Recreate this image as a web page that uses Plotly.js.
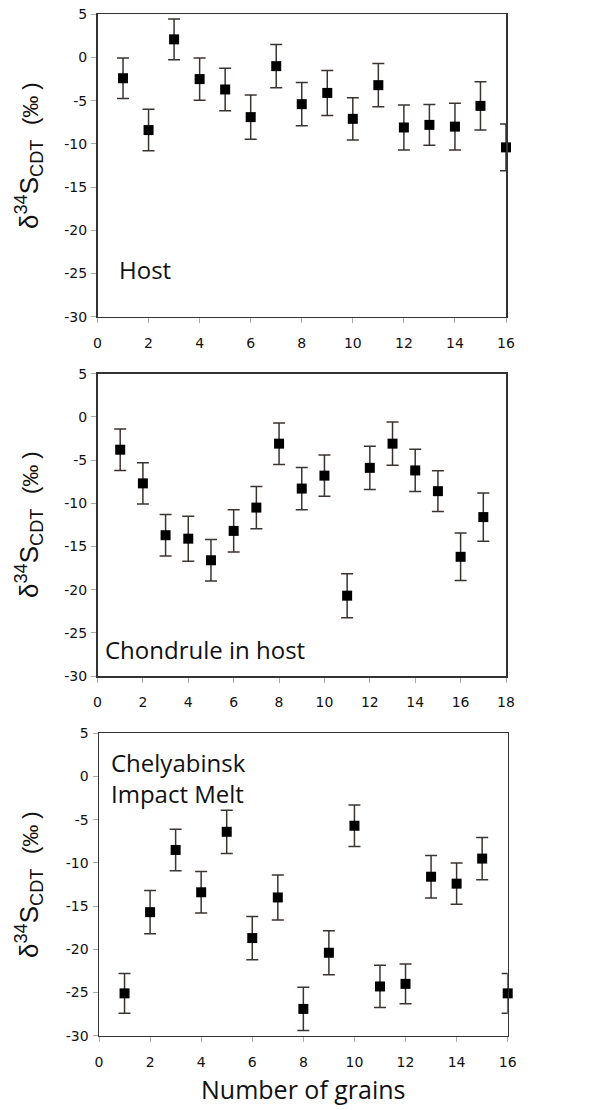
<!DOCTYPE html>
<html>
<head>
<meta charset="utf-8">
<script src="https://cdn.plot.ly/plotly-3.0.1.min.js"></script>
<style>html,body{margin:0;padding:0;background:#fff;}#chart{width:600px;height:1110px;}</style>
</head>
<body>
<div id="chart"></div>
<script>
// ---- data ----
const hostGrains = [1,2,3,4,5,6,7,8,9,10,11,12,13,14,15,16];
const hostValues = [-2.4,-8.4,2.1,-2.5,-3.7,-6.9,-1.0,-5.4,-4.1,-7.1,-3.2,-8.1,-7.8,-8.0,-5.6,-10.4];
const hostErrors = [2.35,2.4,2.35,2.45,2.45,2.55,2.5,2.5,2.6,2.45,2.5,2.6,2.35,2.7,2.8,2.7];

const chondGrains = [1,2,3,4,5,6,7,8,9,10,11,12,13,14,15,16,17];
const chondValues = [-3.8,-7.7,-13.7,-14.1,-16.6,-13.2,-10.5,-3.1,-8.3,-6.8,-20.7,-5.9,-3.1,-6.2,-8.6,-16.2,-11.6];
const chondErrors = [2.4,2.4,2.4,2.6,2.4,2.45,2.45,2.4,2.45,2.4,2.55,2.5,2.5,2.45,2.35,2.75,2.8];

const meltGrains = [1,2,3,4,5,6,7,8,9,10,11,12,13,14,15,16];
const meltValues = [-25.1,-15.7,-8.5,-13.4,-6.4,-18.7,-14.0,-26.9,-20.4,-5.7,-24.3,-24.0,-11.6,-12.4,-9.5,-25.1];
const meltErrors = [2.3,2.5,2.4,2.4,2.5,2.5,2.6,2.5,2.55,2.4,2.45,2.3,2.45,2.4,2.45,2.3];

const panelLabels = ["Host", "Chondrule in host", "Chelyabinsk<br>Impact Melt"];
const xRanges = [[0,16],[0,18],[0,16]];
const yRange = [-30, 5];
const yTickVals = [5,0,-5,-10,-15,-20,-25,-30];
const yTickText = ["5","0","-5","-10","-15","-20","-25","-30"];
const xTitle = "Number of grains";
const yTitle = "δ<sup>34</sup>S<sub>CDT</sub>  <span style='font-size:22px'>(‰ )</span>";

// ---- styling/layout ----
const W = 600, H = 1110;
const px = v => v / W;
const py = v => 1 - v / H;

function trace(x, y, e, i) {
  const s = i === 0 ? '' : String(i + 1);
  return {
    x: x, y: y, type: 'scatter', mode: 'markers',
    xaxis: 'x' + s, yaxis: 'y' + s,
    marker: {symbol: 'square', size: 10, color: '#000'},
    error_y: {type: 'data', array: e, visible: true, color: '#3b3330', thickness: 1.5, width: 6},
    cliponaxis: false, showlegend: false, hoverinfo: 'skip'
  };
}

const data = [
  trace(hostGrains, hostValues, hostErrors, 0),
  trace(chondGrains, chondValues, chondErrors, 1),
  trace(meltGrains, meltValues, meltErrors, 2)
];

const panels = [
  {l: 97.5, r: 506, t: 14.3, b: 316.7},
  {l: 97.5, r: 506, t: 373.7, b: 676},
  {l: 99, r: 507.7, t: 733.3, b: 1035.7}
];

const layout = {
  width: W, height: H,
  margin: {l: 0, r: 0, t: 0, b: 0},
  paper_bgcolor: '#fff', plot_bgcolor: '#fff',
  font: {family: 'DejaVu Sans', color: '#111', size: 13},
  showlegend: false,
  annotations: []
};

panels.forEach((p, i) => {
  const s = i === 0 ? '' : String(i + 1);
  layout['xaxis' + s] = {
    domain: [px(p.l), px(p.r)], anchor: 'y' + s,
    range: xRanges[i], dtick: 2, tick0: 0,
    showgrid: false, zeroline: false,
    showline: true, linecolor: '#333', linewidth: 1.5, mirror: true,
    ticks: 'outside', ticklen: 5, tickcolor: '#aaa', tickwidth: 1,
    ticklabelstandoff: 8,
    tickfont: {family: 'DejaVu Sans', size: 14, color: '#111'},
    automargin: false, fixedrange: true
  };
  layout['yaxis' + s] = {
    domain: [py(p.b), py(p.t)], anchor: 'x' + s,
    range: yRange, tickvals: yTickVals, ticktext: yTickText,
    showgrid: false, zeroline: false,
    showline: true, linecolor: '#333', linewidth: 1.5, mirror: true,
    ticks: 'outside', ticklen: 5, tickcolor: '#aaa', tickwidth: 1,
    ticklabelstandoff: 1,
    tickfont: {family: 'DejaVu Sans', size: 14, color: '#111'},
    automargin: false, fixedrange: true
  };
});

// y-axis titles
const yTitleCenters = [156, 525, 885];
yTitleCenters.forEach(c => {
  layout.annotations.push({
    xref: 'paper', yref: 'paper', x: px(29), y: py(c),
    xanchor: 'center', yanchor: 'middle', textangle: -90,
    text: yTitle, showarrow: false,
    font: {family: 'Liberation Sans', size: 26, color: '#111'}
  });
});

// panel labels
const labelPos = [[117, 270], [103, 649], [109, 778]];
panelLabels.forEach((t, i) => {
  layout.annotations.push({
    xref: 'paper', yref: 'paper', x: px(labelPos[i][0]), y: py(labelPos[i][1]),
    xanchor: 'left', yanchor: 'middle', align: 'left',
    text: t, showarrow: false,
    font: {family: 'Open Sans', size: 24, color: '#111'}
  });
});

// x title
layout.annotations.push({
  xref: 'paper', yref: 'paper', x: px(303), y: py(1089),
  xanchor: 'center', yanchor: 'middle',
  text: xTitle, showarrow: false,
  font: {family: 'Open Sans', size: 25, color: '#111'}
});

Plotly.newPlot('chart', data, layout, {staticPlot: true, displayModeBar: false});
</script>
</body>
</html>
